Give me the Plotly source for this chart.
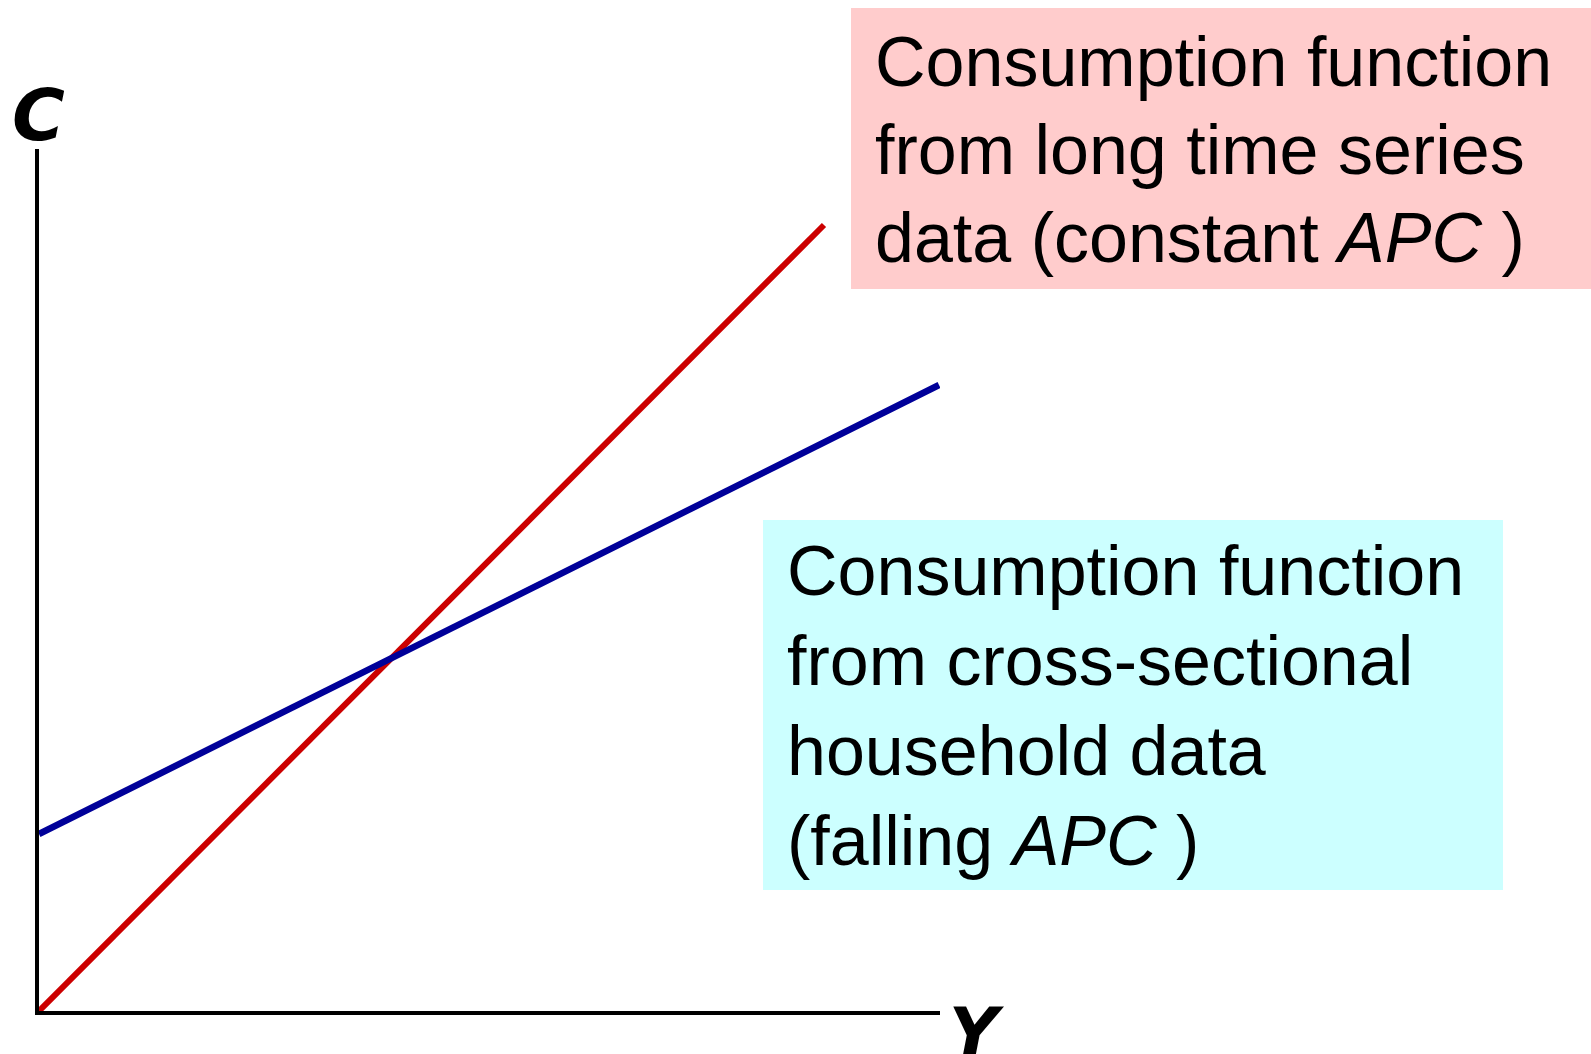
import plotly.graph_objects as go

# ---- data (income Y, consumption C), in chart units ----
long_run_Y = [0, 785]
long_run_C = [0, 786]
cross_Y = [0, 900]
cross_C = [177, 626]

axis_labels = ["C", "Y"]
pink_lines = ["Consumption function", "from long time series", "data (constant <i>APC</i> )"]
cyan_lines = ["Consumption function", "from cross-sectional", "household data", "(falling <i>APC</i> )"]

# ---- layout geometry (pixels) ----
W, H = 1591, 1054
L, R, T, B = 39, 940, 149, 1011
x_range = [0, R - L]
y_range = [0, B - T]


def px(x):
    return (x - L) / (R - L)


def py(y):
    return (B - y) / (B - T)


fig = go.Figure()
fig.add_trace(go.Scatter(x=long_run_Y, y=long_run_C, mode="lines",
                         line=dict(color="#CC0000", width=6), hoverinfo="skip"))
fig.add_trace(go.Scatter(x=cross_Y, y=cross_C, mode="lines",
                         line=dict(color="#000099", width=6.5), hoverinfo="skip"))

shapes = [
    dict(type="rect", xref="paper", yref="paper", x0=px(851), x1=px(1591), y0=py(289), y1=py(8),
         fillcolor="#FFCCCC", line=dict(width=0), layer="below"),
    dict(type="rect", xref="paper", yref="paper", x0=px(763), x1=px(1503), y0=py(890), y1=py(520),
         fillcolor="#CCFFFF", line=dict(width=0), layer="below"),
]

text_font = dict(family="Liberation Sans, Arial, sans-serif", size=70, color="black")
ASC = 65  # distance from annotation top to text baseline

annotations = []
for i, line in enumerate(pink_lines):
    baseline = 86 + i * 88
    annotations.append(dict(xref="paper", yref="paper", x=px(873), y=py(baseline - ASC),
                            xanchor="left", yanchor="top", text=line, align="left",
                            showarrow=False, font=text_font))
for i, line in enumerate(cyan_lines):
    baseline = 595 + i * 90
    annotations.append(dict(xref="paper", yref="paper", x=px(785), y=py(baseline - ASC),
                            xanchor="left", yanchor="top", text=line, align="left",
                            showarrow=False, font=text_font))

annotations += [
    dict(xref="paper", yref="paper", x=px(38), y=py(71), xanchor="center", yanchor="top",
         text="<b><i>%s</i></b>" % axis_labels[0], showarrow=False,
         font=dict(family="DejaVu Sans, Verdana, sans-serif", size=72, color="black")),
    dict(xref="paper", yref="paper", x=px(977), y=py(991), xanchor="center", yanchor="top",
         text="<b><i>%s</i></b>" % axis_labels[1], showarrow=False,
         font=dict(family="DejaVu Sans, Verdana, sans-serif", size=68, color="black")),
]

axis_common = dict(showline=True, linecolor="black", linewidth=3.5, showgrid=False,
                   zeroline=False, showticklabels=False, ticks="", fixedrange=True)

fig.update_layout(
    width=W, height=H,
    margin=dict(l=L, r=W - R, t=T, b=H - B, pad=0),
    paper_bgcolor="white", plot_bgcolor="white",
    showlegend=False,
    xaxis=dict(range=x_range, **axis_common),
    yaxis=dict(range=y_range, **axis_common),
    shapes=shapes,
    annotations=annotations,
)

fig.write_html("out.html", post_script="document.body.style.margin='0px';",
               config={"displayModeBar": False})
